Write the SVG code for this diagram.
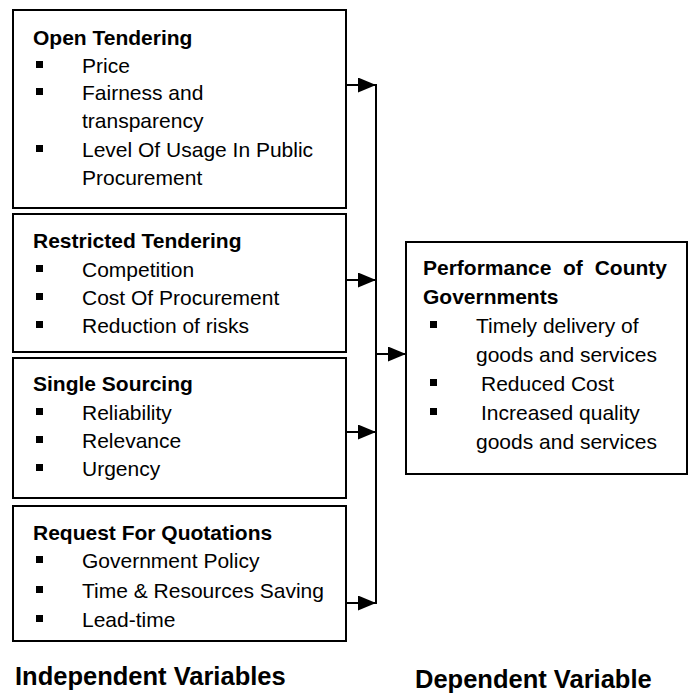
<svg xmlns="http://www.w3.org/2000/svg" width="691" height="693" viewBox="0 0 691 693">
<style>
.box{fill:#fff;stroke:#000;stroke-width:2}
.t{font-family:"Liberation Sans",Arial,sans-serif;font-size:21px;fill:#000}
.h{font-weight:bold}
.lbl{font-family:"Liberation Sans",Arial,sans-serif;font-size:25.5px;font-weight:bold;fill:#000}
.b{fill:#000}
.c{stroke:#000;stroke-width:2;fill:none}
</style>
<defs>
<marker id="ah" markerUnits="userSpaceOnUse" markerWidth="18" markerHeight="15" refX="18" refY="7.5" orient="auto">
<path d="M0,0 L18,7.5 L0,15 z" fill="#000"/>
</marker>
</defs>
<rect width="691" height="693" fill="#fff"/>

<g id="open-tendering">
<rect class="box" x="13" y="10" width="333" height="198"/>
<text class="t h" x="33" y="45">Open Tendering</text>
<rect class="b" x="36" y="61" width="7" height="7"/>
<text class="t" x="82" y="73">Price</text>
<rect class="b" x="36" y="88" width="7" height="7"/>
<text class="t" x="82" y="100">Fairness and</text>
<text class="t" x="82" y="128">transparency</text>
<rect class="b" x="36" y="145" width="7" height="7"/>
<text class="t" x="82" y="157">Level Of Usage In Public</text>
<text class="t" x="82" y="185">Procurement</text>
</g>

<g id="restricted-tendering">
<rect class="box" x="13" y="214" width="333" height="138"/>
<text class="t h" x="33" y="248">Restricted Tendering</text>
<rect class="b" x="36" y="265" width="7" height="7"/>
<text class="t" x="82" y="277">Competition</text>
<rect class="b" x="36" y="293" width="7" height="7"/>
<text class="t" x="82" y="305">Cost Of Procurement</text>
<rect class="b" x="36" y="321" width="7" height="7"/>
<text class="t" x="82" y="333">Reduction of risks</text>
</g>

<g id="single-sourcing">
<rect class="box" x="13" y="358" width="333" height="140"/>
<text class="t h" x="33" y="391">Single Sourcing</text>
<rect class="b" x="36" y="408" width="7" height="7"/>
<text class="t" x="82" y="420">Reliability</text>
<rect class="b" x="36" y="436" width="7" height="7"/>
<text class="t" x="82" y="448">Relevance</text>
<rect class="b" x="36" y="464" width="7" height="7"/>
<text class="t" x="82" y="476">Urgency</text>
</g>

<g id="request-for-quotations">
<rect class="box" x="13" y="506" width="333" height="135"/>
<text class="t h" x="33" y="540">Request For Quotations</text>
<rect class="b" x="36" y="556" width="7" height="7"/>
<text class="t" x="82" y="568">Government Policy</text>
<rect class="b" x="36" y="586" width="7" height="7"/>
<text class="t" x="82" y="598">Time &amp; Resources Saving</text>
<rect class="b" x="36" y="615" width="7" height="7"/>
<text class="t" x="82" y="627">Lead-time</text>
</g>

<g id="performance">
<rect class="box" x="406" y="242" width="281" height="232"/>
<text class="t h" x="423" y="275">Performance</text>
<text class="t h" x="563" y="275">of</text>
<text class="t h" x="667" y="275" text-anchor="end">County</text>
<text class="t h" x="423" y="304">Governments</text>
<rect class="b" x="430" y="321" width="7" height="7"/>
<text class="t" x="476" y="333">Timely delivery of</text>
<text class="t" x="476" y="362">goods and services</text>
<rect class="b" x="430" y="379" width="7" height="7"/>
<text class="t" x="481" y="391">Reduced Cost</text>
<rect class="b" x="430" y="408" width="7" height="7"/>
<text class="t" x="481" y="420">Increased quality</text>
<text class="t" x="476" y="449">goods and services</text>
</g>

<g id="connectors">
<line class="c" x1="376" y1="84" x2="376" y2="604"/>
<line class="c" x1="346" y1="85" x2="376" y2="85" marker-end="url(#ah)"/>
<line class="c" x1="346" y1="280" x2="376" y2="280" marker-end="url(#ah)"/>
<line class="c" x1="346" y1="432" x2="376" y2="432" marker-end="url(#ah)"/>
<line class="c" x1="346" y1="603" x2="376" y2="603" marker-end="url(#ah)"/>
<line class="c" x1="376" y1="354" x2="406" y2="354" marker-end="url(#ah)"/>
</g>

<g id="labels">
<text class="lbl" x="15" y="685">Independent Variables</text>
<text class="lbl" x="415" y="688">Dependent Variable</text>
</g>
</svg>
